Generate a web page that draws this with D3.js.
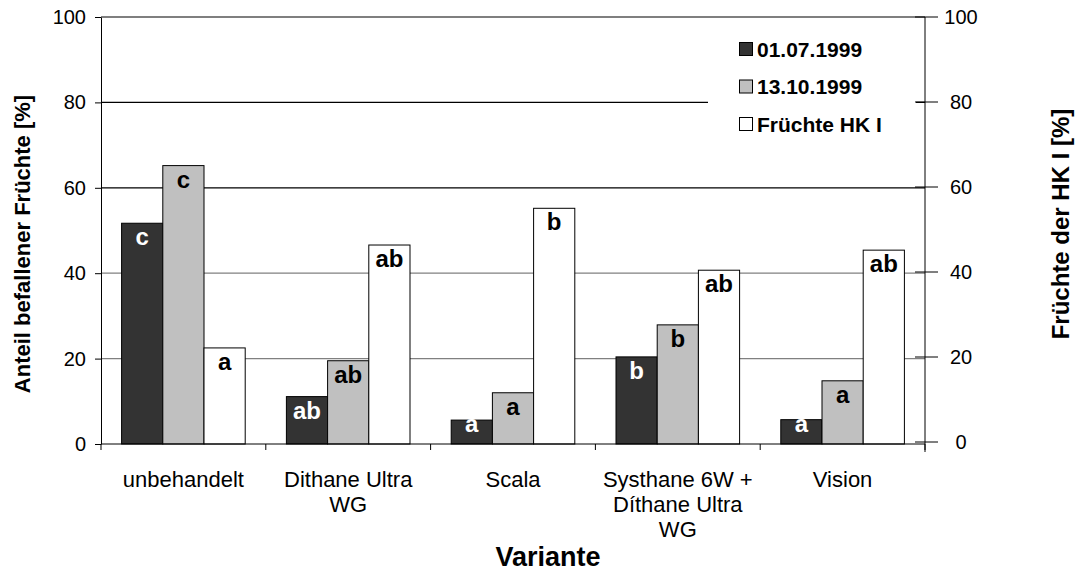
<!DOCTYPE html>
<html>
<head>
<meta charset="utf-8">
<script src="https://cdn.jsdelivr.net/npm/d3@7"></script>
<style>
  html, body { margin: 0; padding: 0; background: #fff; }
  svg { display: block; font-family: "Liberation Sans", Arial, sans-serif; }
</style>
</head>
<body>
<svg id="chart" width="1079" height="571"></svg>
<script>
// ---- data ----
const categories = [
  ["unbehandelt"],
  ["Dithane Ultra", "WG"],
  ["Scala"],
  ["Systhane 6W +", "Díthane Ultra", "WG"],
  ["Vision"]
];
const seriesNames = ["01.07.1999", "13.10.1999", "Früchte HK I"];
const values0107 = [51.7, 11.1, 5.6, 20.4, 5.7];
const values1310 = [65.2, 19.5, 12.0, 27.9, 14.8];
const valuesHK   = [22.5, 46.6, 55.2, 40.7, 45.4];
const letters0107 = ["c", "ab", "a", "b", "a"];
const letters1310 = ["c", "ab", "a", "b", "a"];
const lettersHK   = ["a", "ab", "b", "ab", "ab"];
const yTicks = [0, 20, 40, 60, 80, 100];
const yTitleLeft = "Anteil befallener Früchte [%]";
const yTitleRight = "Früchte der HK I [%]";
const xTitle = "Variante";

// ---- styles ----
const fills = ["#333333", "#c0c0c0", "#ffffff"];
const labelColors = ["#ffffff", "#000000", "#000000"];

const svg = d3.select("#chart");
const plot = { left: 101, right: 925, top: 17, bottom: 444 };

const x0 = d3.scaleBand().domain(d3.range(categories.length))
  .range([plot.left, plot.right]).paddingInner(0).paddingOuter(0);
const bw = x0.bandwidth();
const x1 = d3.scaleBand().domain(d3.range(seriesNames.length))
  .range([bw / 8, bw * 7 / 8]).padding(0);
const yL = d3.scaleLinear().domain([0, 100]).range([plot.bottom, plot.top]);
const yR = d3.scaleLinear().domain([0, 100]).range([plot.bottom - 2, plot.top]);

// gridlines
svg.append("g").selectAll("line").data(yTicks.filter(t => t > 0)).join("line")
  .attr("x1", plot.left).attr("x2", plot.right)
  .attr("y1", d => yL(d)).attr("y2", d => yL(d))
  .attr("stroke", d => d >= 60 ? "#000" : "#808080")
  .attr("stroke-width", 1.2);

// bars
const series = [values0107, values1310, valuesHK];
const letters = [letters0107, letters1310, lettersHK];
const groups = svg.append("g").selectAll("g").data(categories).join("g")
  .attr("transform", (d, i) => `translate(${x0(i)},0)`);

series.forEach((vals, s) => {
  groups.append("rect")
    .attr("x", x1(s))
    .attr("width", x1.bandwidth())
    .attr("y", (d, i) => yL(vals[i]))
    .attr("height", (d, i) => yL(0) - yL(vals[i]))
    .attr("fill", fills[s])
    .attr("stroke", "#000")
    .attr("stroke-width", 1);
});
series.forEach((vals, s) => {
  groups.append("text")
    .attr("x", x1(s) + x1.bandwidth() / 2)
    .attr("y", (d, i) => Math.min(yL(vals[i]) + 22, yL(0) - 12))
    .attr("text-anchor", "middle")
    .attr("font-size", 24)
    .attr("font-weight", "bold")
    .attr("fill", labelColors[s])
    .text((d, i) => letters[s][i]);
});

// legend
const lg = svg.append("g");
lg.append("rect").attr("x", 708).attr("y", 19).attr("width", 208).attr("height", 122)
  .attr("fill", "#fff");
seriesNames.forEach((n, i) => {
  const cy = 49 + i * 37.5;
  lg.append("rect").attr("x", 739.5).attr("y", cy - 6.5).attr("width", 13).attr("height", 13)
    .attr("fill", fills[i]).attr("stroke", "#000").attr("stroke-width", 1);
  lg.append("text").attr("x", 757).attr("y", cy).attr("dy", "0.36em")
    .attr("font-size", 21).attr("font-weight", "bold").text(n);
});

// left axis
const axL = svg.append("g").attr("transform", `translate(${plot.left},0)`)
  .call(d3.axisLeft(yL).tickValues(yTicks).tickSize(6).tickSizeOuter(0).tickPadding(9));
axL.selectAll("text").attr("font-size", 20).attr("font-family", "Liberation Sans, Arial, sans-serif").attr("fill", "#000");
axL.select(".domain").attr("stroke", "#000");
axL.selectAll(".tick line").attr("stroke", "#000");

// right axis (crossing ticks)
const axR = svg.append("g");
axR.append("line").attr("x1", plot.right).attr("x2", plot.right)
  .attr("y1", plot.top).attr("y2", plot.bottom + 8).attr("stroke", "#000");
axR.selectAll("line.t").data(yTicks).join("line").attr("class", "t")
  .attr("x1", plot.right - 10).attr("x2", plot.right + 13)
  .attr("y1", d => yR(d)).attr("y2", d => yR(d)).attr("stroke", "#000");
axR.selectAll("text").data(yTicks).join("text")
  .attr("x", 961).attr("y", d => yR(d)).attr("dy", "0.36em")
  .attr("text-anchor", "middle").attr("font-size", 20).text(d => d);

// x axis
const axB = svg.append("g");
axB.append("line").attr("x1", plot.left).attr("x2", plot.right)
  .attr("y1", plot.bottom).attr("y2", plot.bottom).attr("stroke", "#000");
axB.selectAll("line.t").data(d3.range(categories.length + 1)).join("line").attr("class", "t")
  .attr("x1", i => plot.left + i * bw).attr("x2", i => plot.left + i * bw)
  .attr("y1", plot.bottom).attr("y2", plot.bottom + 6).attr("stroke", "#000");
const xl = axB.selectAll("text").data(categories).join("text")
  .attr("text-anchor", "middle").attr("font-size", 22)
  .attr("transform", (d, i) => `translate(${x0(i) + bw / 2},487)`);
xl.selectAll("tspan").data(d => d).join("tspan")
  .attr("x", 0).attr("y", (d, j) => j * 25).text(d => d);

// titles
svg.append("text").attr("transform", "translate(30,244) rotate(-90)")
  .attr("text-anchor", "middle").attr("font-size", 22).attr("font-weight", "bold")
  .text(yTitleLeft);
svg.append("text").attr("transform", "translate(1069,224) rotate(-90)")
  .attr("text-anchor", "middle").attr("font-size", 24).attr("font-weight", "bold")
  .text(yTitleRight);
svg.append("text").attr("x", 548).attr("y", 566)
  .attr("text-anchor", "middle").attr("font-size", 27).attr("font-weight", "bold")
  .text(xTitle);
</script>
</body>
</html>
